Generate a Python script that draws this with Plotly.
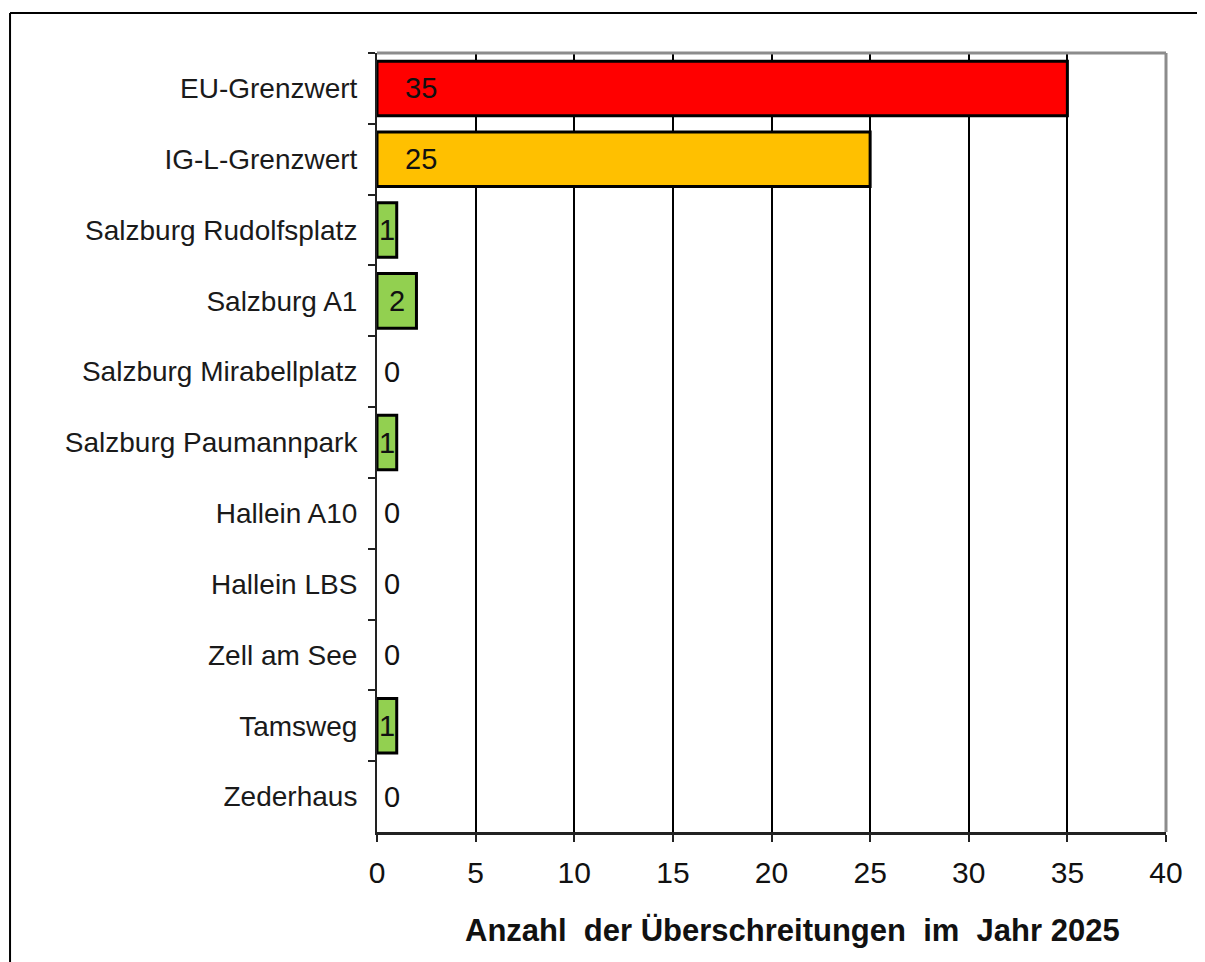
import plotly.graph_objects as go

categories = ["EU-Grenzwert", "IG-L-Grenzwert", "Salzburg Rudolfsplatz", "Salzburg A1",
              "Salzburg Mirabellplatz", "Salzburg Paumannpark", "Hallein A10", "Hallein LBS",
              "Zell am See", "Tamsweg", "Zederhaus"]
values = [35, 25, 1, 2, 0, 1, 0, 0, 0, 1, 0]
colors = ["#FF0000", "#FFC000", "#92D050", "#92D050", "#92D050", "#92D050",
          "#92D050", "#92D050", "#92D050", "#92D050", "#92D050"]
x_ticks = [0, 5, 10, 15, 20, 25, 30, 35, 40]
x_title = "Anzahl  der Überschreitungen  im  Jahr 2025"

FONT = "Liberation Sans, Arial, sans-serif"

fig = go.Figure()
fig.add_trace(go.Bar(
    y=categories, x=values, orientation="h",
    marker=dict(color=colors,
                line=dict(color="black", width=[3 if v > 0 else 0 for v in values])),
    hoverinfo="x+y",
))

annotations = []
for cat, v in zip(categories, values):
    if v >= 5:
        annotations.append(dict(x=0, y=cat, text=str(v), xanchor="left", xshift=26,
                                showarrow=False, font=dict(size=29, color="#111", family=FONT)))
    elif v > 0:
        annotations.append(dict(x=v / 2, y=cat, text=str(v), xanchor="center",
                                showarrow=False, font=dict(size=29, color="#111", family=FONT)))
    else:
        annotations.append(dict(x=0, y=cat, text=str(v), xanchor="left", xshift=5,
                                showarrow=False, font=dict(size=29, color="#111", family=FONT)))

# x-axis title (placed as annotation to match the reference's off-centre position)
annotations.append(dict(xref="paper", yref="paper", x=0.527, y=-0.126,
                        xanchor="center", yanchor="middle", showarrow=False,
                        text="<b>" + x_title + "</b>",
                        font=dict(size=31, family=FONT, color="#111")))

fig.update_layout(
    width=1197, height=954,
    margin=dict(l=369, r=39, t=45, b=130),
    paper_bgcolor="white", plot_bgcolor="white",
    showlegend=False,
    bargap=0.23,
    font=dict(family=FONT, color="#111"),
    annotations=annotations,
    xaxis=dict(
        range=[0, 40], tickvals=x_ticks, ticktext=[str(t) for t in x_ticks],
        showgrid=True, gridcolor="black", gridwidth=2,
        showline=True, linecolor="#222", linewidth=3,
        ticks="outside", ticklen=7, tickwidth=2, tickcolor="#222",
        tickfont=dict(size=30, family=FONT, color="#111"),
        ticklabelstandoff=5,
        zeroline=False, fixedrange=True,
    ),
    yaxis=dict(
        categoryorder="array", categoryarray=categories, autorange="reversed",
        showline=True, linecolor="#222", linewidth=2,
        ticks="outside", ticklen=7, tickwidth=2, tickcolor="#222", tickson="boundaries",
        tickfont=dict(size=28, family=FONT, color="#1a1a1a"),
        ticklabelstandoff=12,
        showgrid=False, zeroline=False, fixedrange=True,
    ),
    shapes=[
        # gray plot border top and right
        dict(type="line", xref="paper", yref="paper", x0=0, x1=1, y0=1, y1=1,
             line=dict(color="#8c8c8c", width=3), layer="above"),
        dict(type="line", xref="paper", yref="paper", x0=1, x1=1, y0=0, y1=1,
             line=dict(color="#8c8c8c", width=3), layer="above"),
        # outer frame
        dict(type="line", xref="paper", yref="paper", x0=-0.4651, x1=1.2, y0=1.0513, y1=1.0513,
             line=dict(color="black", width=2)),
        dict(type="line", xref="paper", yref="paper", x0=-0.4651, x1=-0.4651, y0=-0.3, y1=1.0513,
             line=dict(color="black", width=2)),
    ],
)

fig.write_html("out.html")
